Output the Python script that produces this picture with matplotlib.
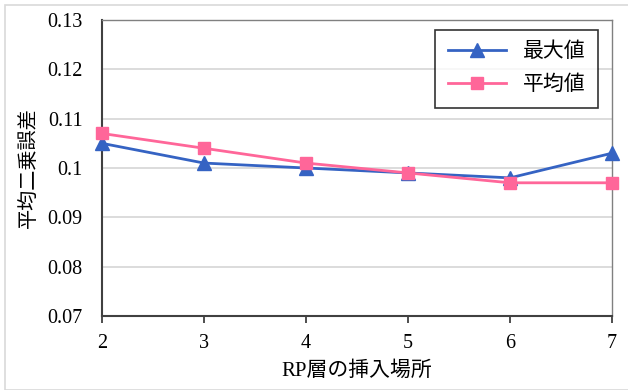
import matplotlib.pyplot as plt
from matplotlib.patches import Rectangle

plt.rcParams['font.family'] = ['Liberation Serif', 'Noto Sans CJK JP']

x = [2, 3, 4, 5, 6, 7]
max_vals = [0.105, 0.101, 0.100, 0.099, 0.098, 0.103]
mean_vals = [0.107, 0.104, 0.101, 0.099, 0.097, 0.097]
yticks = [0.07, 0.08, 0.09, 0.1, 0.11, 0.12, 0.13]
ytick_labels = ['0.07', '0.08', '0.09', '0.1', '0.11', '0.12', '0.13']

fig = plt.figure(figsize=(6.28, 3.90), dpi=100)
ax = fig.add_axes([102 / 628, 1 - 316 / 390, 510 / 628, 296 / 390])

# outer frame of the chart area
fig.patches.append(Rectangle((5 / 628, 0.0), 640 / 628, (390 - 5) / 390,
                             transform=fig.transFigure, fill=False,
                             edgecolor='#d9d9d9', linewidth=1.2))

ax.plot(x, max_vals, color='#3563c3', linewidth=2, marker='^',
        markersize=10, label='最大値', clip_on=False, zorder=3)
ax.plot(x, mean_vals, color='#ff6699', linewidth=2, marker='s',
        markersize=9, label='平均値', clip_on=False, zorder=4)

ax.set_xlim(2, 7)
ax.set_ylim(0.07, 0.13)
ax.set_xticks(x)
ax.set_yticks(yticks)
ax.set_yticklabels(ytick_labels)
ax.tick_params(axis='y', length=0, pad=14, labelsize=14.5)
ax.tick_params(axis='x', length=5, width=1.3, color='#404040', pad=8,
               labelsize=14.5)
ax.grid(axis='y', color='#d9d9d9', linewidth=1.3)
ax.set_axisbelow(True)

for side in ['left', 'bottom']:
    ax.spines[side].set_color('#404040')
    ax.spines[side].set_linewidth(1.5)
for side in ['top', 'right']:
    ax.spines[side].set_color('#808080')
    ax.spines[side].set_linewidth(1.0)

ax.set_xlabel('RP層の挿入場所', fontsize=15, labelpad=6)
ax.set_ylabel('平均二乗誤差', fontsize=14.5, labelpad=6)

leg = ax.legend(loc='upper right', bbox_to_anchor=(0.972, 0.966),
                borderaxespad=0, fontsize=15, frameon=True, fancybox=False,
                handlelength=2.8, borderpad=0.6, labelspacing=0.65)
leg.get_frame().set_edgecolor('black')
leg.get_frame().set_linewidth(1.2)

fig.savefig('out.png', dpi=100)
